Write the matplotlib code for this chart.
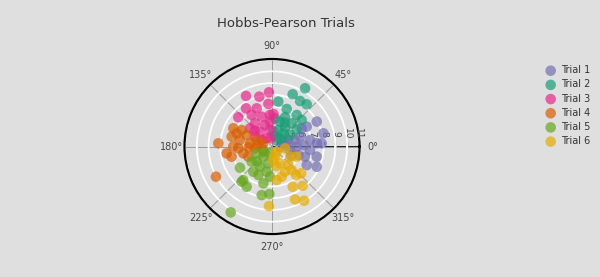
import numpy as np
import matplotlib.pyplot as plt

# values (r, theta in degrees)
trial_1_r = [7.96, 8.12, 7.78, 6.95, 7.5, 6.54, 7.0, 6.89, 7.42, 6.13, 5.7, 5.16, 4.6, 6.57, 5.64, 6.85, 5.96, 5.1, 7.84, 4.3, 4.9, 5.4, 6.3, 4.7]
trial_1_theta = [29.1, 14.4, 335.7, 331.9, 347.2, 342.9, 29.8, 9.7, 4.1, 19.4, 359.6, 349.0, 15.6, 31.5, 15.8, 354.7, 342.1, 21.7, 3.6, 355.0, 5.0, 335.0, 2.0, 25.0]
trial_2_r = [9.3, 8.38, 8.15, 8.25, 7.46, 7.03, 6.32, 7.01, 6.99, 5.82, 6.19, 5.57, 5.1, 6.16, 5.42, 4.68, 4.28, 5.08, 6.01, 4.5, 5.9, 4.9]
trial_2_theta = [60.4, 68.4, 58.4, 50.6, 82.0, 68.6, 66.0, 51.9, 41.8, 72.0, 49.7, 55.8, 69.0, 34.8, 32.6, 40.0, 54.0, 49.0, 84.0, 75.0, 62.0, 85.0]
trial_3_r = [8.22, 7.98, 8.44, 7.24, 7.53, 7.1, 7.4, 6.8, 6.29, 6.29, 6.05, 5.53, 6.03, 5.22, 5.02, 4.43, 5.27, 6.37, 4.64, 5.72, 4.3, 5.6]
trial_3_theta = [93.2, 104.3, 117.2, 94.9, 124.3, 111.9, 139.1, 122.8, 109.0, 93.6, 126.3, 108.0, 140.4, 129.0, 96.9, 123.0, 150.0, 87.6, 147.8, 94.6, 100.0, 138.0]
trial_4_r = [9.02, 8.18, 7.24, 7.14, 7.51, 7.15, 6.38, 6.47, 5.97, 5.5, 6.11, 5.02, 5.06, 4.39, 6.81, 5.8, 4.4, 6.9, 6.54, 4.8, 5.6]
trial_4_theta = [208.3, 176.6, 154.8, 166.3, 188.6, 194.1, 168.5, 183.1, 155.6, 171.8, 193.4, 157.0, 186.2, 160.0, 159.6, 203.2, 202.0, 180.0, 151.5, 175.0, 182.0]
trial_5_r = [10.22, 6.87, 7.36, 7.65, 7.83, 7.65, 6.82, 5.76, 6.27, 5.6, 5.79, 6.18, 4.74, 4.21, 5.03, 5.07, 6.29, 7.56, 4.4, 5.4]
trial_5_theta = [237.9, 213.5, 229.4, 237.8, 258.0, 266.8, 256.8, 216.7, 233.4, 239.2, 258.0, 266.2, 229.6, 253.7, 204.0, 257.7, 244.4, 229.2, 215.0, 225.0]
trial_6_r = [8.68, 8.51, 8.96, 7.45, 7.84, 6.48, 6.78, 6.97, 6.01, 5.19, 5.7, 5.87, 4.72, 4.19, 4.76, 6.21, 6.3, 5.36, 4.4, 5.3]
trial_6_theta = [267.1, 293.5, 300.6, 297.2, 308.0, 277.9, 310.1, 317.2, 297.3, 295.4, 311.4, 337.6, 352.0, 312.0, 275.6, 309.9, 287.8, 330.5, 290.0, 282.0]

names = ['Trial 1', 'Trial 2', 'Trial 3', 'Trial 4', 'Trial 5', 'Trial 6']
colors = ['#7570b3', '#1b9e77', '#e7298a', '#d95f02', '#66a61e', '#e6ab02']
rs = [trial_1_r, trial_2_r, trial_3_r, trial_4_r, trial_5_r, trial_6_r]
thetas = [trial_1_theta, trial_2_theta, trial_3_theta, trial_4_theta, trial_5_theta, trial_6_theta]
r_ticks = [4, 5, 6, 7, 8, 9, 10, 11]
r_min, r_max = 3.6, 11.05

bg = '#dfdfdf'
fig = plt.figure(figsize=(6, 2.77), dpi=100, facecolor=bg)
ax = fig.add_axes([0.3075, 0.1552, 0.2917, 0.6318], projection='polar')
ax.set_facecolor(bg)
ax.set_ylim(r_min, r_max)

# grids
ax.set_xticks(np.radians(np.arange(0, 360, 45)))
ax.set_xticklabels([f'{a}°' for a in range(0, 360, 45)], fontsize=7, color='#444444')
ax.xaxis.grid(True, color='#9a9a9a', linewidth=0.7)
ax.set_yticks(r_ticks)
ax.set_yticklabels([])
ax.yaxis.grid(True, color='white', linewidth=1.3)
ax.tick_params(axis='x', direction='out', length=3.5, width=1.2, color='black', pad=-1)
ax.spines['polar'].set_linewidth(1.6)
ax.spines['polar'].set_color('black')

# radial axis line with ticks
ax.plot([0, 0], [r_min, r_max], color='black', linewidth=1.2, zorder=1.5, clip_on=False)
ax.plot(np.zeros(len(r_ticks)), r_ticks, linestyle='none', marker=2, markersize=3.5,
        markeredgewidth=0.9, color='black', zorder=1.5)
for t in r_ticks:
    ax.annotate(str(t), (0, t), xytext=(0, 9), textcoords='offset points',
                rotation=-90, ha='center', va='center', fontsize=6.5, color='#444444')

for r, th, name, c in zip(rs, thetas, names, colors):
    ax.scatter(np.radians(th), r, s=58, color=c, alpha=0.7, edgecolors='none', label=name, zorder=3)

fig.suptitle('Hobbs-Pearson Trials', x=0.477, y=0.94, fontsize=9.5, color='#333333')

fig.legend(loc='upper left', bbox_to_anchor=(0.9, 0.782), frameon=False, fontsize=7,
           labelspacing=0.43, handletextpad=0.5, borderpad=0, handlelength=1.2,
           markerscale=1.0, labelcolor='#333333')

fig.savefig('out.png', dpi=100, facecolor=bg)
